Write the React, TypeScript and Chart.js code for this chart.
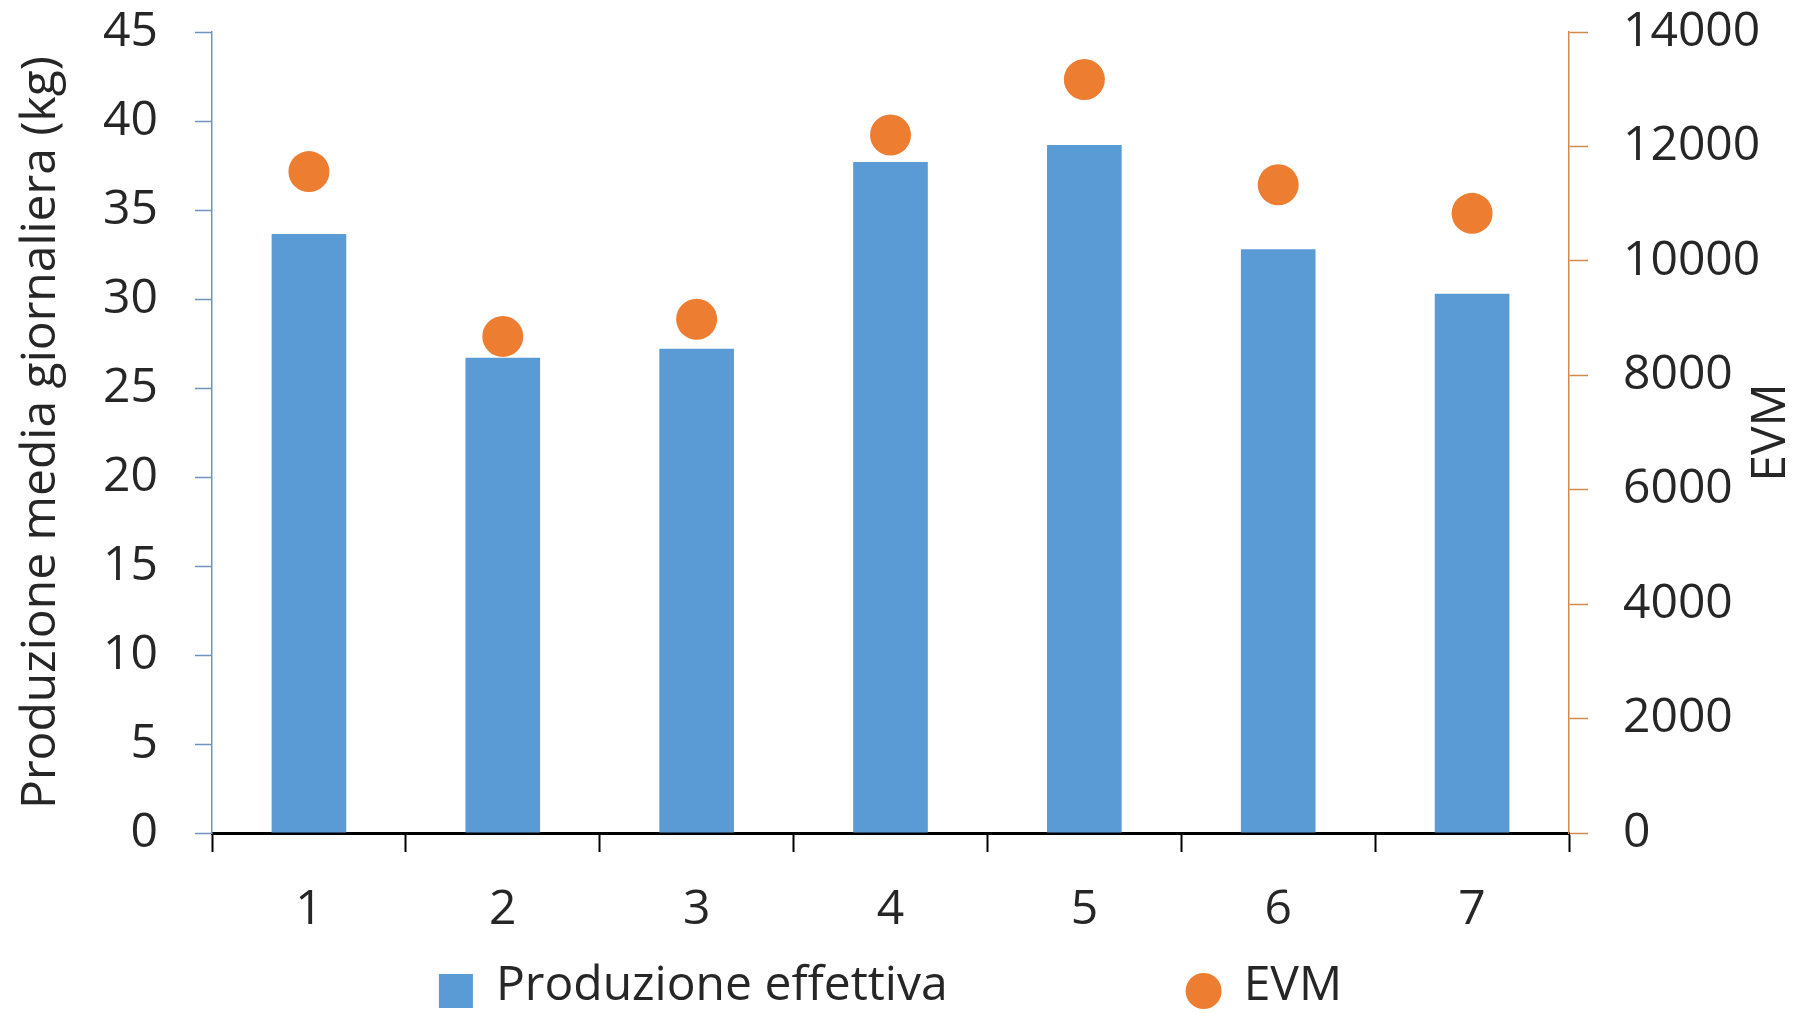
import React, { useEffect, useRef } from "react";
import { Chart, registerables } from "chart.js";

Chart.register(...registerables);

const categories = ["1", "2", "3", "4", "5", "6", "7"];
const produzioneEffettiva = [33.65, 26.7, 27.2, 37.7, 38.65, 32.8, 30.3];
const evm = [11560, 8680, 8980, 12200, 13170, 11330, 10830];
const seriesNames = ["Produzione effettiva", "EVM"];
const leftAxisTitle = "Produzione media giornaliera (kg)";
const rightAxisTitle = "EVM";

const FONT_FAMILY = '"Open Sans", sans-serif';
const FONT_SIZE = 48;
const TEXT_COLOR = "#262626";
const BAR_COLOR = "#5B9BD5";
const DOT_COLOR = "#ED7D31";
const LEFT_AXIS_COLOR = "#6f93bd";
const RIGHT_AXIS_COLOR = "#d08a4e";

const rightTitlePlugin = {
  id: "rightTitle",
  afterDraw(chart: any) {
    const s = chart.scales.y1;
    if (!s) return;
    const ctx = chart.ctx;
    ctx.save();
    ctx.translate(s.right - 29, (s.top + s.bottom) / 2);
    ctx.rotate(-Math.PI / 2);
    ctx.font = `${FONT_SIZE}px ${FONT_FAMILY}`;
    ctx.fillStyle = TEXT_COLOR;
    ctx.textAlign = "center";
    ctx.textBaseline = "middle";
    ctx.fillText(rightAxisTitle, 0, 0);
    ctx.restore();
  },
};

const legendPlugin = {
  id: "customLegend",
  afterDraw(chart: any) {
    const ctx = chart.ctx;
    const area = chart.chartArea;
    ctx.save();
    ctx.font = `${FONT_SIZE}px ${FONT_FAMILY}`;
    const w1 = ctx.measureText(seriesNames[0]).width;
    const w2 = ctx.measureText(seriesNames[1]).width;
    const sq = 34;
    const r = 18;
    const gap1 = 23;
    const gap2 = 22;
    const itemGap = 238;
    const total = sq + gap1 + w1 + itemGap + 2 * r + gap2 + w2;
    let x = (area.left + area.right) / 2 - total / 2;
    const cy = chart.height - 22;
    const baseline = chart.height - 13;
    ctx.fillStyle = chart.data.datasets[0].backgroundColor;
    ctx.fillRect(x, cy - sq / 2, sq, sq);
    x += sq + gap1;
    ctx.fillStyle = TEXT_COLOR;
    ctx.textAlign = "left";
    ctx.textBaseline = "alphabetic";
    ctx.fillText(seriesNames[0], x, baseline);
    x += w1 + itemGap;
    ctx.fillStyle = chart.data.datasets[1].pointBackgroundColor;
    ctx.beginPath();
    ctx.arc(x + r, cy, r, 0, Math.PI * 2);
    ctx.fill();
    x += 2 * r + gap2;
    ctx.fillStyle = TEXT_COLOR;
    ctx.fillText(seriesNames[1], x, baseline);
    ctx.restore();
  },
};

export default function App() {
  const canvasRef = useRef<HTMLCanvasElement | null>(null);

  useEffect(() => {
    document.body.style.margin = "0";
    const canvas = canvasRef.current;
    if (!canvas) return;
    const font = { family: FONT_FAMILY, size: FONT_SIZE };
    const chart = new Chart(canvas, {
      type: "bar",
      data: {
        labels: categories,
        datasets: [
          {
            type: "bar",
            label: seriesNames[0],
            data: produzioneEffettiva,
            backgroundColor: BAR_COLOR,
            borderWidth: 0,
            barPercentage: 0.385,
            categoryPercentage: 1,
            yAxisID: "y",
            order: 2,
          } as any,
          {
            type: "line",
            label: seriesNames[1],
            data: evm,
            showLine: false,
            pointRadius: 20.5,
            pointHoverRadius: 20.5,
            pointBackgroundColor: DOT_COLOR,
            pointBorderWidth: 0,
            borderColor: DOT_COLOR,
            backgroundColor: DOT_COLOR,
            yAxisID: "y1",
            order: 1,
          } as any,
        ],
      },
      options: {
        animation: false,
        responsive: true,
        maintainAspectRatio: false,
        layout: { padding: { top: 32, bottom: 80, left: 0, right: 0 } },
        plugins: {
          legend: { display: false },
          tooltip: { enabled: false },
        },
        scales: {
          x: {
            type: "category",
            offset: true,
            grid: {
              offset: true,
              drawOnChartArea: false,
              drawTicks: true,
              tickLength: 19,
              tickColor: "#000000",
              tickWidth: 2,
            },
            border: { display: true, color: "#000000", width: 3 },
            ticks: { font, color: TEXT_COLOR, padding: 30, maxRotation: 0 },
            afterFit: (s: any) => {
              s.height = 100;
            },
          },
          y: {
            position: "left",
            min: 0,
            max: 45,
            ticks: { stepSize: 5, font, color: TEXT_COLOR, padding: 37 },
            grid: {
              drawOnChartArea: false,
              tickLength: 17,
              tickColor: LEFT_AXIS_COLOR,
              tickWidth: 1.5,
            },
            border: { display: true, color: LEFT_AXIS_COLOR, width: 1.5 },
            title: {
              display: true,
              text: leftAxisTitle,
              font,
              color: TEXT_COLOR,
              padding: { top: 13, bottom: 0 },
            },
            afterFit: (s: any) => {
              s.width = 212;
              s.paddingTop = 0;
              s.paddingBottom = 0;
            },
          },
          y1: {
            position: "right",
            min: 0,
            max: 14000,
            ticks: {
              stepSize: 2000,
              font,
              color: TEXT_COLOR,
              padding: 35,
              callback: (v: any) => String(v),
            },
            grid: {
              drawOnChartArea: false,
              tickLength: 19,
              tickColor: RIGHT_AXIS_COLOR,
              tickWidth: 1.5,
            },
            border: { display: true, color: RIGHT_AXIS_COLOR, width: 1.5 },
            afterFit: (s: any) => {
              s.width = 231;
              s.paddingTop = 0;
              s.paddingBottom = 0;
            },
          },
        },
      } as any,
      plugins: [rightTitlePlugin, legendPlugin],
    });
    return () => {
      chart.destroy();
    };
  }, []);

  return (
    <div style={{ width: "1800px", height: "1013px", position: "relative", background: "#ffffff" }}>
      <canvas ref={canvasRef} />
    </div>
  );
}
